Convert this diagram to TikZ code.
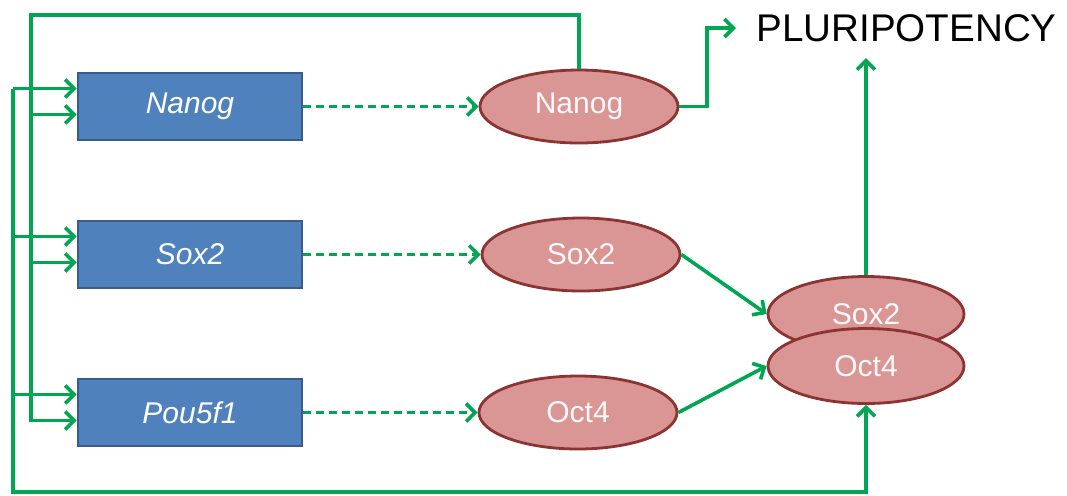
\documentclass[tikz,border=0pt]{standalone}
\usepackage{fontspec}
\setmainfont{Liberation Sans}
\usepackage{tikz}
\usetikzlibrary{arrows.meta,shapes.geometric}
\definecolor{genefill}{RGB}{79,129,189}
\definecolor{genedraw}{RGB}{56,93,138}
\definecolor{protfill}{RGB}{217,150,148}
\definecolor{protdraw}{RGB}{140,52,50}
\definecolor{linkgreen}{RGB}{0,166,81}

\begin{document}
\begin{tikzpicture}[x=5pt,y=5pt]
\tikzstyle{gene}=[draw=genedraw,fill=genefill,line width=1.3pt,minimum width=112pt,minimum height=33.5pt,font=\fontsize{15}{18}\selectfont\itshape,text=white]
\tikzstyle{prot}=[ellipse,draw=protdraw,fill=protfill,line width=1.4pt,minimum width=99pt,minimum height=36.5pt,inner sep=0pt,font=\fontsize{15}{18}\selectfont,text=white!94!protfill]
\tikzstyle{link}=[draw=linkgreen,line width=1.8pt,-{Straight Barb[length=4.5pt,width=9pt]}]
\tikzstyle{dlink}=[link,dash pattern=on 4pt off 2.5pt]
\useasboundingbox (0,0) rectangle (106.7,-49.5);
% genes
\node [gene] (nanog) at (19,-10.65) {Nanog};
\node [gene] (sox) at (19,-25.45) {Sox2};
\node [gene] (pou) at (19,-41.25) {Pou5f1};
% proteins
\node [prot] (nanogp) at (57.9,-10.65) {Nanog};
\node [prot] (soxp) at (58.1,-25.45) {Sox2};
\node [prot] (octp) at (57.8,-41.25) {Oct4};
\node [prot,minimum width=98pt,minimum height=37.5pt] (sox2c) at (86.6,-31.4) {Sox2};
\node [prot,minimum width=98pt,minimum height=37.5pt] (oct4c) at (86.6,-36.6) {Oct4};
\node [anchor=west,inner sep=0pt,font=\fontsize{19.3}{22}\selectfont] (plur) at (75.6,-2.8) {PLURIPOTENCY};
\coordinate (outer) at (1.3,-49.2);
\coordinate (inner) at (3.1,-1.5);
\coordinate (turn) at (70.7,-2.8);
% translation
\draw [dlink] (nanog.east) -- (nanogp.west);
\draw [dlink] (sox.east) -- (soxp.west);
\draw [dlink] (pou.east) -- (octp.west);
% complex and output
\draw [link] (soxp.east) -- (sox2c.west);
\draw [link] (octp.east) -- (oct4c.west);
\draw [link] (sox2c.north) -- ([yshift=-8pt]sox2c.north |- plur.south);
\draw [link,shorten >=10pt] (nanogp.east) -| (turn) -- (plur.west);
% feedback from the complex
\draw [link] ([yshift=9pt]nanog.west -| outer) -- (outer) -| (oct4c.south);
\foreach \g in {nanog,sox,pou}
  \draw [link] ([yshift=9pt]\g.west -| outer) -- ([yshift=9pt]\g.west);
% feedback from Nanog
\draw [link] (nanogp.north) |- (inner) |- ([yshift=-4pt]pou.west);
\foreach \g in {nanog,sox}
  \draw [link] ([yshift=-4pt]\g.west -| inner) -- ([yshift=-4pt]\g.west);
\end{tikzpicture}
\end{document}
